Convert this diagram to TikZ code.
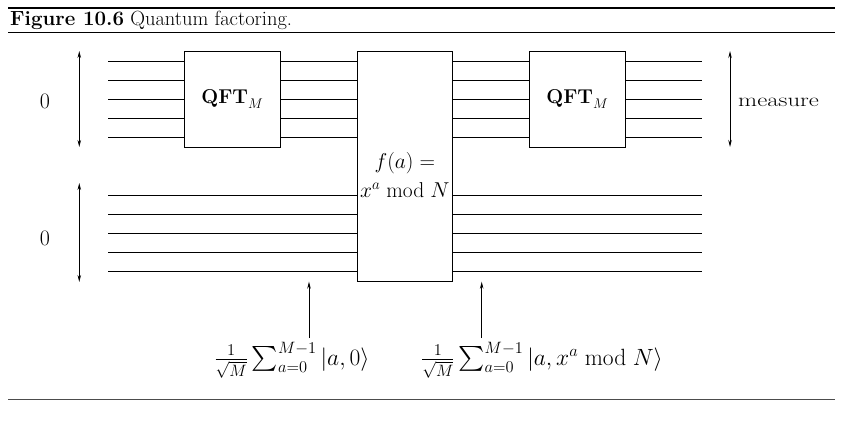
\RequirePackage{fix-cm}
\documentclass[tikz,border=0pt]{standalone}
\usepackage{amsmath}
\usepackage{graphicx}
\usetikzlibrary{arrows.meta}
\begin{document}
\begin{tikzpicture}[x=1pt,y=-1pt,
  wire/.style={line width=0.8pt},
  gate/.style={draw,line width=0.8pt,inner sep=0pt,anchor=center},
  rng/.style={line width=0.8pt,{Stealth[length=7pt,width=3.5pt]}-{Stealth[length=7pt,width=3.5pt]}},
  upar/.style={line width=0.8pt,-{Stealth[length=7pt,width=3.5pt]}},
  lbl/.style={inner sep=0pt,font=\fontsize{19}{22}\selectfont},
  ttl/.style={inner sep=0pt,font=\fontsize{20.5}{24}\selectfont},
  qft/.style={font=\fontsize{20}{24}\selectfont},
  fx/.style={inner sep=0pt,align=center,font=\fontsize{21.5}{29}\selectfont},
  sumlbl/.style={inner sep=0pt,font=\fontsize{23.5}{28}\selectfont},
  rulel/.style={line width=0.8pt}]
\useasboundingbox (0,0) rectangle (842,420);
% rules and title
\coordinate (r1a) at (8,8); \coordinate (r1b) at (835,8);
\coordinate (r2a) at (8,32); \coordinate (r2b) at (835,32);
\coordinate (r3a) at (8,399); \coordinate (r3b) at (835,399);
\draw[line width=1.6pt] (r1a) -- (r1b);
\draw[rulel] (r2a) -- (r2b);
\draw[rulel,black!70] (r3a) -- (r3b);
\node[ttl,anchor=base west] (title) at (10,26) {\textbf{Figure 10.6} Quantum factoring.};
% gates
\node[gate,qft,minimum width=96.7pt,minimum height=96pt] (q1) at (232.4,99) {$\mathbf{QFT}_M$};
\node[gate,minimum width=95pt,minimum height=230pt] (f) at (404.8,166) {};
\node[fx] (ftxt) at (404.8,175) {$f(a)=$\\$x^a\bmod N$};
\node[gate,qft,minimum width=96.7pt,minimum height=96pt] (q2) at (577.4,99) {$\mathbf{QFT}_M$};
% wires
\foreach \i in {0,...,4}{
  \coordinate (t\i) at (108,{61.5+19*\i});
  \coordinate (te\i) at (702,{61.5+19*\i});
  \draw[wire] (t\i) -- (t\i -| q1.west);
  \draw[wire] (t\i -| q1.east) -- (t\i -| f.west);
  \draw[wire] (t\i -| f.east) -- (t\i -| q2.west);
  \draw[wire] (te\i -| q2.east) -- (te\i);
  \coordinate (b\i) at (108,{195+19*\i});
  \coordinate (be\i) at (702,{195+19*\i});
  \draw[wire] (b\i) -- (b\i -| f.west);
  \draw[wire] (b\i -| f.east) -- (be\i);
}
% range arrows
\coordinate (ra1) at (79.3,51); \coordinate (ra2) at (79.3,147);
\coordinate (rb1) at (79.3,183); \coordinate (rb2) at (79.3,282);
\coordinate (rc1) at (730,51); \coordinate (rc2) at (730,147);
\draw[rng] (ra1) -- (ra2);
\draw[rng] (rb1) -- (rb2);
\draw[rng] (rc1) -- (rc2);
\node[inner sep=0pt,font=\fontsize{22}{26}\selectfont] (z1) at (45,101) {0};
\node[inner sep=0pt,font=\fontsize{22}{26}\selectfont] (z2) at (45,238) {0};
\node[lbl,anchor=west] (meas) at (738,102) {\scalebox{1.3}[1]{measure}};
% bottom labels
\node[sumlbl] (s1) at (292,360) {$\frac{1}{\sqrt{M}}\sum_{a=0}^{M-1}|a,0\rangle$};
\node[sumlbl] (s2) at (542,360) {$\frac{1}{\sqrt{M}}\sum_{a=0}^{M-1}|a,x^a\bmod N\rangle$};
\coordinate (p1) at (309,338); \coordinate (p1t) at (309,281.7);
\coordinate (p2) at (481.7,338); \coordinate (p2t) at (481.7,281.7);
\draw[upar] (p1) -- (p1t);
\draw[upar] (p2) -- (p2t);
\end{tikzpicture}
\end{document}
